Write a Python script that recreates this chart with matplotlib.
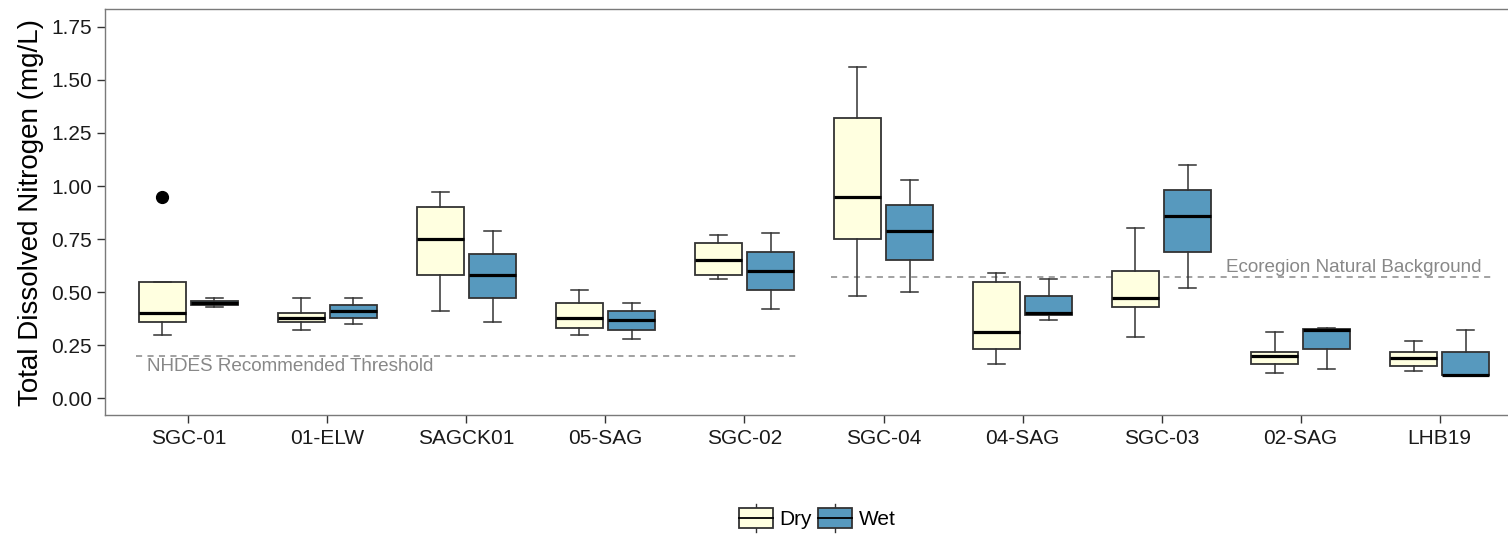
import matplotlib
matplotlib.use("Agg")
import matplotlib.pyplot as plt
from matplotlib.legend_handler import HandlerBase
from matplotlib.patches import Rectangle
from matplotlib.lines import Line2D
from matplotlib.ticker import FixedLocator, FormatStrFormatter

plt.rcParams["font.family"] = ["Liberation Sans", "DejaVu Sans"]

# Sampling sites, left to right
sites = ["SGC-01", "01-ELW", "SAGCK01", "05-SAG", "SGC-02",
         "SGC-04", "04-SAG", "SGC-03", "02-SAG", "LHB19"]

# Dry-season box statistics (mg/L)
dry_whislo = [0.30, 0.32, 0.41, 0.30, 0.56, 0.48, 0.16, 0.29, 0.12, 0.13]
dry_q1     = [0.36, 0.36, 0.58, 0.33, 0.58, 0.75, 0.23, 0.43, 0.16, 0.15]
dry_med    = [0.40, 0.38, 0.75, 0.38, 0.65, 0.95, 0.31, 0.47, 0.20, 0.19]
dry_q3     = [0.55, 0.40, 0.90, 0.45, 0.73, 1.32, 0.55, 0.60, 0.22, 0.22]
dry_whishi = [0.55, 0.47, 0.97, 0.51, 0.77, 1.56, 0.59, 0.80, 0.31, 0.27]
dry_fliers = [[0.95], [], [], [], [], [], [], [], [], []]

# Wet-season box statistics (mg/L)
wet_whislo = [0.43, 0.35, 0.36, 0.28, 0.42, 0.50, 0.37, 0.52, 0.14, 0.11]
wet_q1     = [0.44, 0.38, 0.47, 0.32, 0.51, 0.65, 0.39, 0.69, 0.23, 0.11]
wet_med    = [0.45, 0.41, 0.58, 0.37, 0.60, 0.79, 0.40, 0.86, 0.32, 0.11]
wet_q3     = [0.46, 0.44, 0.68, 0.41, 0.69, 0.91, 0.48, 0.98, 0.325, 0.22]
wet_whishi = [0.47, 0.47, 0.79, 0.45, 0.78, 1.03, 0.56, 1.10, 0.33, 0.32]
wet_fliers = [[], [], [], [], [], [], [], [], [], []]

# Reference levels
threshold_value = 0.20
threshold_label = "NHDES Recommended Threshold"
background_value = 0.57
background_label = "Ecoregion Natural Background"

seasons = ["Dry", "Wet"]
season_colors = {"Dry": "#FFFFE0", "Wet": "#5799BE"}

edge = "#333333"
ref_grey = "#888888"

fig = plt.figure(figsize=(15.08, 5.37), dpi=100)
W, H = 1508, 537
ax = fig.add_axes([105 / W, (H - 415) / H, (1523 - 105) / W, (415 - 9) / H])


def stats_list(lo, q1, med, q3, hi, fl):
    return [dict(whislo=a, q1=b, med=c, q3=d, whishi=e, fliers=f)
            for a, b, c, d, e, f in zip(lo, q1, med, q3, hi, fl)]


groups = {
    "Dry": stats_list(dry_whislo, dry_q1, dry_med, dry_q3, dry_whishi, dry_fliers),
    "Wet": stats_list(wet_whislo, wet_q1, wet_med, wet_q3, wet_whishi, wet_fliers),
}

dodge = 0.75
box_w = dodge / 2 * 0.9
for k, season in enumerate(seasons):
    offset = (k - 0.5) * dodge / 2
    pos = [i + offset for i in range(len(sites))]
    ax.bxp(groups[season], positions=pos, widths=box_w, patch_artist=True,
           capwidths=0.125, manage_ticks=False,
           boxprops=dict(facecolor=season_colors[season], edgecolor=edge, linewidth=1.3),
           medianprops=dict(color="black", linewidth=2.3, solid_capstyle="butt"),
           whiskerprops=dict(color=edge, linewidth=1.1),
           capprops=dict(color=edge, linewidth=1.1),
           flierprops=dict(marker="o", markerfacecolor="black", markeredgecolor="black",
                           markersize=8.5),
           zorder=3)

# Reference lines spanning their groups of sites
ax.hlines(threshold_value, -0.375, 4.375, colors=ref_grey, linestyles=(0, (4, 3.5)),
          linewidth=1.1, zorder=2)
ax.hlines(background_value, 4.625, 9.375, colors=ref_grey, linestyles=(0, (4, 3.5)),
          linewidth=1.1, zorder=2)
ax.text(-0.3, threshold_value - 0.07, threshold_label, color=ref_grey, fontsize=13.6,
        ha="left", va="baseline")
ax.text(9.3, background_value + 0.025, background_label, color=ref_grey, fontsize=13.6,
        ha="right", va="baseline")

ax.set_xlim(-0.6, len(sites) - 1 + 0.6)
ax.set_ylim(-0.079, 1.834)
ax.set_xticks(range(len(sites)))
ax.set_xticklabels(sites)
ax.yaxis.set_major_locator(FixedLocator([0, 0.25, 0.5, 0.75, 1.0, 1.25, 1.5, 1.75]))
ax.yaxis.set_major_formatter(FormatStrFormatter("%.2f"))
ax.tick_params(axis="both", labelsize=15, length=6, width=1, color="#333333",
               labelcolor="#1a1a1a")
ax.tick_params(axis="y", pad=3.5)
ax.tick_params(axis="x", pad=4)
for sp in ax.spines.values():
    sp.set_color("#7a7a7a")
    sp.set_linewidth(1)
ax.set_ylabel("Total Dissolved Nitrogen (mg/L)", fontsize=20, labelpad=5, color="black")


class BoxKeyHandler(HandlerBase):
    def create_artists(self, legend, orig_handle, xdescent, ydescent, width, height,
                       fontsize, trans):
        x0, y0 = -xdescent, -ydescent
        bh = height * 0.66
        by = y0 + (height - bh) / 2
        xm = x0 + width / 2
        arts = [
            Line2D([xm, xm], [y0, by], color=edge, lw=1.0),
            Line2D([xm, xm], [by + bh, y0 + height], color=edge, lw=1.0),
            Rectangle((x0, by), width, bh, facecolor=orig_handle.get_facecolor(),
                      edgecolor=edge, lw=1.3),
            Line2D([x0, x0 + width], [y0 + height / 2] * 2, color="black", lw=1.3),
        ]
        for a in arts:
            a.set_transform(trans)
        return arts


handles = [Rectangle((0, 0), 1, 1, facecolor=season_colors[s]) for s in seasons]
fig.legend(handles, seasons, loc="center", bbox_to_anchor=(817 / W, (H - 518) / H),
           ncol=2, frameon=False, fontsize=15, handlelength=1.65, handleheight=1.75,
           handletextpad=0.3, columnspacing=0.3,
           handler_map={Rectangle: BoxKeyHandler()})

fig.savefig("out.png", dpi=100)
